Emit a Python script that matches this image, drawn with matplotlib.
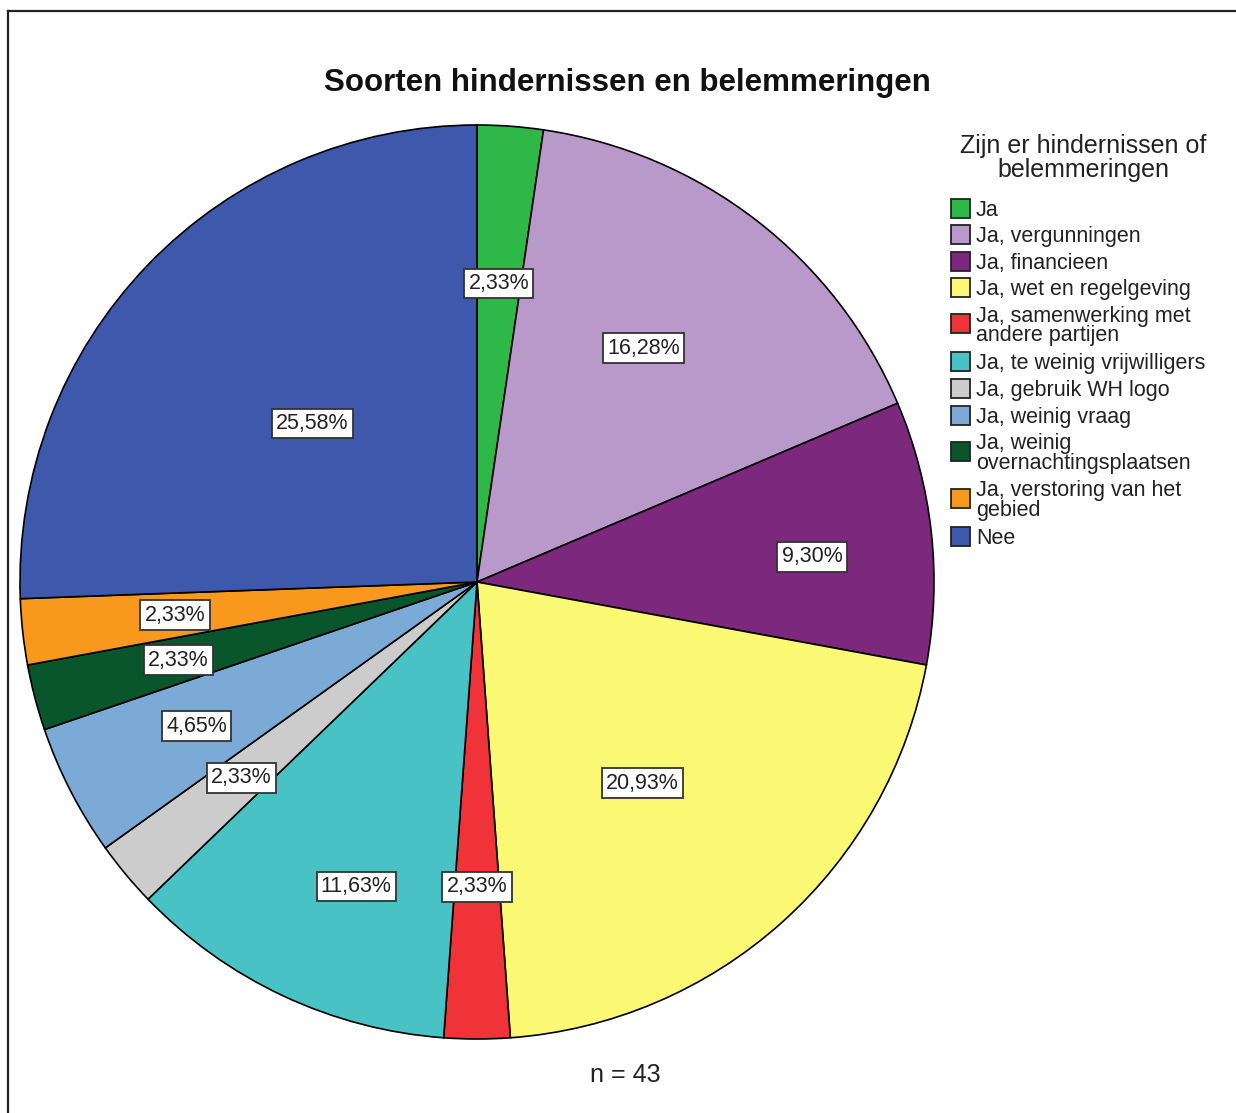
import matplotlib
matplotlib.use("Agg")
import matplotlib.pyplot as plt
from matplotlib.patches import Rectangle
from matplotlib.lines import Line2D
import numpy as np

plt.rcParams['font.family'] = ['Liberation Sans', 'DejaVu Sans']

# ---- data ----
categories = ["Ja", "Ja, vergunningen", "Ja, financieen", "Ja, wet en regelgeving",
              "Ja, samenwerking met\nandere partijen", "Ja, te weinig vrijwilligers",
              "Ja, gebruik WH logo", "Ja, weinig vraag",
              "Ja, weinig\novernachtingsplaatsen", "Ja, verstoring van het\ngebied", "Nee"]
counts = [1, 7, 4, 9, 1, 5, 1, 2, 1, 1, 11]
colors = ["#2eb848", "#b899c9", "#7c287d", "#fbf873", "#ef3338", "#48c2c5",
          "#cccccc", "#7aaad5", "#0a562c", "#f8981d", "#3e58ac"]
title = "Soorten hindernissen en belemmeringen"
legend_title = "Zijn er hindernissen of\nbelemmeringen"
n_total = sum(counts)

# label placement (layout): radial fraction and angular offset in degrees
label_r = [0.655, 0.628, 0.735, 0.57, 0.667, 0.717, 0.67, 0.69, 0.675, 0.665, 0.50]
label_dang = [0, 2.2, -2.0, -2.4, 0, 3.5, 0, 0, 0, 0, 0]

W, H = 1236, 1113
fig = plt.figure(figsize=(W / 100, H / 100), dpi=100)

cx, cy, R = 477, 582, 457
ax = fig.add_axes([(cx - R) / W, (H - cy - R) / H, 2 * R / W, 2 * R / H])
wedges, _ = ax.pie(counts, colors=colors, startangle=90, counterclock=False,
                   radius=1.0, wedgeprops=dict(edgecolor="black", linewidth=1.2))
ax.set_xlim(-1, 1)
ax.set_ylim(-1, 1)
ax.set_aspect('equal')
ax.axis('off')

for w, c, r, da in zip(wedges, counts, label_r, label_dang):
    ang = np.deg2rad((w.theta1 + w.theta2) / 2 + da)
    pct = 100 * c / n_total
    txt = f"{pct:.2f}%".replace(".", ",")
    ax.text(r * np.cos(ang), r * np.sin(ang), txt, ha="center", va="center",
            fontsize=15.5, color="#222222",
            bbox=dict(boxstyle="square,pad=0.2", facecolor="white",
                      edgecolor="#333333", linewidth=1.3))

fig.text(627 / W, 1 - 83 / H, title, ha="center", va="center",
         fontsize=22.5, fontweight="bold", color="#111111")
fig.text(625 / W, 1 - 1075 / H, f"n = {n_total}", ha="center", va="center",
         fontsize=18, color="#222222")

# legend
fig.text(1083 / W, 1 - 158 / H, legend_title, ha="center", va="center",
         fontsize=18, color="#222222", linespacing=1.02)
y = 210
for lab, col in zip(categories, colors):
    nlines = lab.count("\n") + 1
    yc = y if nlines == 1 else y + 9.5
    fig.patches.append(Rectangle((951 / W, 1 - (yc - 2 + 9.5) / H), 19 / W, 19 / H,
                                 transform=fig.transFigure, facecolor=col,
                                 edgecolor="#222222", linewidth=1.3))
    fig.text(976 / W, 1 - yc / H, lab, ha="left", va="center",
             fontsize=15.5, color="#222222", linespacing=0.92)
    y += 26.6 if nlines == 1 else 47.5

# figure frame (left and top)
fig.add_artist(Line2D([7.5 / W, 7.5 / W], [0, 1 - 10.5 / H], transform=fig.transFigure,
                      color="#222222", linewidth=1.6))
fig.add_artist(Line2D([7.5 / W, 1], [1 - 10.5 / H, 1 - 10.5 / H], transform=fig.transFigure,
                      color="#222222", linewidth=1.6))

fig.savefig("out.png", dpi=100, facecolor="white")
